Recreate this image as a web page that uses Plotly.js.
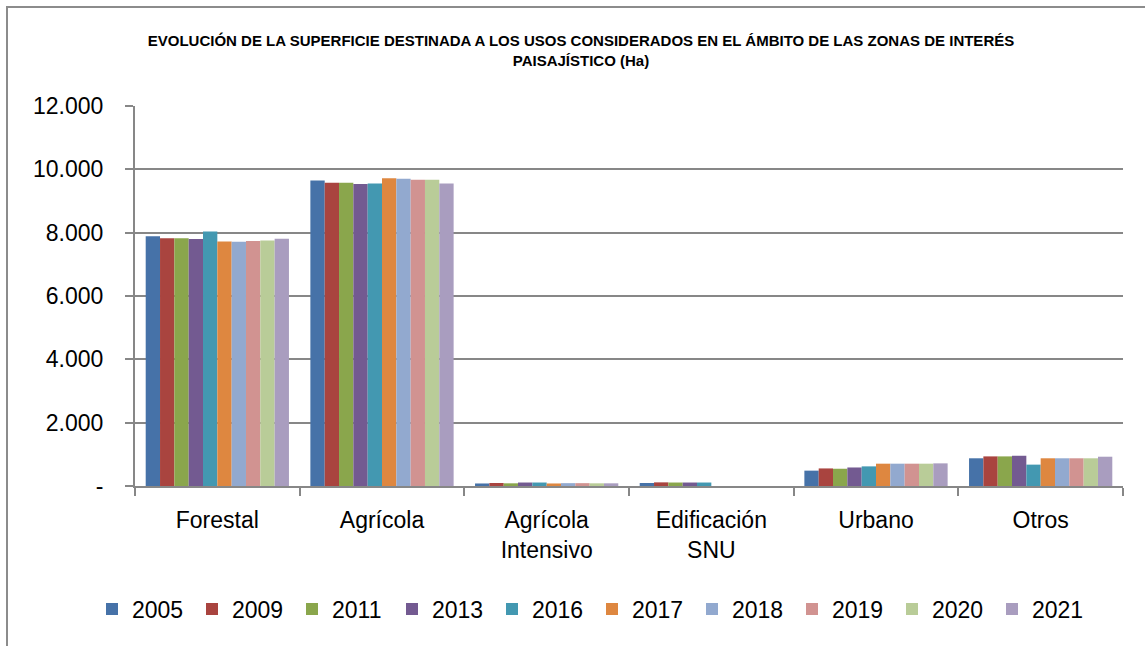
<!DOCTYPE html>
<html>
<head>
<meta charset="utf-8">
<script src="https://cdn.plot.ly/plotly-3.0.1.min.js"></script>
<style>
  html, body { margin: 0; padding: 0; background: #fff; }
  #chart { width: 1145px; height: 646px; }
  #frame { position: absolute; left: 6px; top: 6px; width: 1150px; height: 700px;
           border-left: 2px solid #8c8c8c; border-top: 2px solid #8c8c8c; pointer-events: none; }
</style>
</head>
<body>
<div id="chart"></div>
<div id="frame"></div>
<script>
const categories = ["Forestal", "Agrícola", "Agrícola<br>Intensivo", "Edificación<br>SNU", "Urbano", "Otros"];
const years = ["2005", "2009", "2011", "2013", "2016", "2017", "2018", "2019", "2020", "2021"];
const colors = ["#4672A8", "#A9443F", "#8AA64C", "#735A91", "#4398B1", "#DE8740", "#92A9CF", "#D19391", "#B9CC98", "#A99DBF"];

const v2005 = [7890, 9650, 80, 95, 485, 875];
const v2009 = [7820, 9580, 95, 115, 555, 935];
const v2011 = [7820, 9580, 85, 110, 545, 935];
const v2013 = [7800, 9540, 110, 110, 585, 955];
const v2016 = [8040, 9550, 110, 110, 620, 675];
const v2017 = [7725, 9715, 80, 0, 705, 875];
const v2018 = [7715, 9705, 90, 0, 705, 875];
const v2019 = [7735, 9675, 90, 0, 705, 875];
const v2020 = [7755, 9675, 85, 0, 705, 875];
const v2021 = [7810, 9550, 85, 0, 715, 925];
const series = [v2005, v2009, v2011, v2013, v2016, v2017, v2018, v2019, v2020, v2021];

const yTickVals = [0, 2000, 4000, 6000, 8000, 10000, 12000];
const yTickText = ["-", "2.000", "4.000", "6.000", "8.000", "10.000", "12.000"];

const traces = years.map((yr, i) => ({
  type: "bar",
  name: yr,
  x: categories,
  y: series[i],
  marker: { color: colors[i], line: { width: 0 } },
  hoverinfo: "x+y+name"
}));

const axisGray = "#878787";
const baseFont = "Liberation Sans, Arial, sans-serif";
const W = 1145, H = 646;
const M = { l: 135, r: 22, t: 106, b: 160 };
const plotW = W - M.l - M.r, plotH = H - M.t - M.b;

const layout = {
  width: W,
  height: H,
  margin: M,
  paper_bgcolor: "#ffffff",
  plot_bgcolor: "#ffffff",
  font: { family: baseFont, color: "#000000", size: 23 },
  barmode: "group",
  bargap: 0.13,
  bargroupgap: 0,
  title: {
    text: "<b>EVOLUCIÓN DE LA SUPERFICIE DESTINADA A LOS USOS CONSIDERADOS EN EL ÁMBITO DE LAS ZONAS DE INTERÉS<br>PAISAJÍSTICO (Ha)</b>",
    font: { family: baseFont, size: 15, color: "#000000" },
    xref: "container", x: 581 / W, xanchor: "center",
    yref: "container", y: 1 - 46 / H, yanchor: "middle"
  },
  xaxis: {
    type: "category",
    showline: true, linecolor: axisGray, linewidth: 2,
    ticks: "outside", tickson: "boundaries", ticklen: 8, tickcolor: axisGray, tickwidth: 2,
    showgrid: false,
    tickfont: { size: 23 },
    ticklabelstandoff: 12,
    fixedrange: true
  },
  yaxis: {
    range: [0, 12000],
    tickvals: yTickVals,
    ticktext: yTickText,
    showline: true, linecolor: axisGray, linewidth: 2,
    ticks: "outside", ticklen: 8, tickcolor: axisGray, tickwidth: 2,
    showgrid: true, gridcolor: axisGray, gridwidth: 2,
    zeroline: false,
    tickfont: { size: 23 },
    ticklabelstandoff: 17,
    fixedrange: true
  },
  showlegend: true,
  legend: {
    orientation: "h",
    xref: "paper", x: (92 - M.l) / plotW, xanchor: "left",
    yref: "paper", y: (H - M.b - 609) / plotH, yanchor: "middle",
    font: { size: 23 },
    entrywidth: 55, entrywidthmode: "pixels",
    itemwidth: 30,
    traceorder: "normal"
  }
};

Plotly.newPlot("chart", traces, layout, { displayModeBar: false, staticPlot: true });
</script>
</body>
</html>
